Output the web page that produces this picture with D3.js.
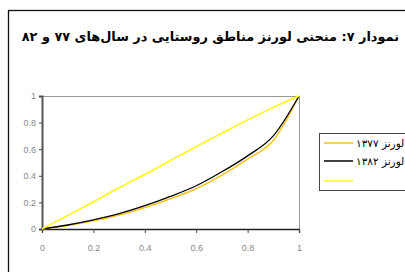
<!DOCTYPE html>
<html>
<head>
<meta charset="utf-8">
<script src="https://cdn.jsdelivr.net/npm/d3@7"></script>
<style>
  body { margin: 0; background: #fff; }
  svg { display: block; }
</style>
</head>
<body>
<div id="chart-area"></div>
<script>
// data
var shares = [0, 0.1, 0.2, 0.3, 0.4, 0.5, 0.6, 0.7, 0.8, 0.9, 1]
var lorenz77 = [0, 0.027, 0.062, 0.105, 0.162, 0.228, 0.303, 0.405, 0.525, 0.665, 1]
var lorenz82 = [0, 0.03, 0.068, 0.115, 0.175, 0.245, 0.325, 0.43, 0.55, 0.7, 1]
var equality = [0, 0.1, 0.205, 0.31, 0.41, 0.515, 0.62, 0.72, 0.82, 0.915, 1]
var tickValues = [0, 0.2, 0.4, 0.6, 0.8, 1]
var seriesNames = ["لورنز ۱۳۷۷", "لورنز ۱۳۸۲", ""]
var title = "نمودار ۷: منحنی لورنز مناطق روستایی در سال‌های ۷۷ و ۸۲"

var W = 405, H = 272
var plot = { left: 42, right: 299, top: 96, bottom: 229 }

var svg = d3.select("#chart-area")
    .append("svg")
        .attr("width", W)
        .attr("height", H)

// outer frame (clipped on right and bottom)
svg.append("rect")
    .attr("x", 8.5).attr("y", 10.5)
    .attr("width", 500).attr("height", 400)
    .attr("fill", "none")
    .attr("stroke", "#111")
    .attr("stroke-width", 1.3)

// title
var t = svg.append("text")
    .attr("x", 399)
    .attr("y", 41)
    .attr("text-anchor", "end")
    .attr("font-family", "'DejaVu Sans', 'Liberation Serif', serif")
    .attr("font-weight", "bold")
    .attr("font-size", "14px")
    .attr("fill", "#000")
    .text(title)
var tl = t.node().getComputedTextLength()
if (tl > 0) t.attr("font-size", (14 * 378 / tl) + "px")

// scales
var x = d3.scaleLinear().domain([0, 1]).range([plot.left, plot.right])
var y = d3.scaleLinear().domain([0, 1]).range([plot.bottom, plot.top])

// plot border top/right
svg.append("path")
    .attr("d", "M" + plot.left + "," + (plot.top + 0.5) + "H" + (plot.right + 0.5) + "V" + plot.bottom)
    .attr("fill", "none")
    .attr("stroke", "#999")
    .attr("stroke-width", 1)

// X axis
var xAxis = svg.append("g")
    .attr("transform", "translate(0," + plot.bottom + ")")
    .call(d3.axisBottom(x).tickValues(tickValues).tickSize(4).tickPadding(12)
        .tickFormat(d3.format("")))
xAxis.select(".domain").attr("stroke", "#222").attr("stroke-width", 1.3)
xAxis.selectAll(".tick line").attr("stroke", "#444")
xAxis.selectAll("text")
    .attr("fill", "#888")
    .attr("font-family", "'Liberation Sans', sans-serif")
    .attr("font-size", "9px")

// Y axis
var yAxis = svg.append("g")
    .attr("transform", "translate(" + plot.left + ",0)")
    .call(d3.axisLeft(y).tickValues(tickValues).tickSize(3).tickPadding(3)
        .tickFormat(d3.format("")))
yAxis.select(".domain").attr("stroke", "#555").attr("stroke-width", 2)
yAxis.selectAll(".tick line").attr("stroke", "#444")
yAxis.selectAll("text")
    .attr("fill", "#888")
    .attr("font-family", "'Liberation Sans', sans-serif")
    .attr("font-size", "9px")

// lines
var line = d3.line()
    .x(function(d, i) { return x(shares[i]) })
    .y(function(d) { return y(d) })
    .curve(d3.curveMonotoneX)

var series = [
    { values: lorenz77, color: "#f7c21c", width: 1.5 },
    { values: lorenz82, color: "#000", width: 1.3 },
    { values: equality, color: "#ffff00", width: 1.5 }
]

svg.selectAll(".series")
    .data(series)
    .enter()
    .append("path")
        .attr("class", "series")
        .attr("d", function(d) { return line(d.values) })
        .attr("fill", "none")
        .attr("stroke", function(d) { return d.color })
        .attr("stroke-width", function(d) { return d.width })

// legend
var legend = svg.append("g")
legend.append("rect")
    .attr("x", 319.5).attr("y", 133.5)
    .attr("width", 120).attr("height", 57)
    .attr("fill", "#fff")
    .attr("stroke", "#444")
    .attr("stroke-width", 1)

var items = legend.selectAll(".item")
    .data(series)
    .enter()
    .append("g")
        .attr("class", "item")
        .attr("transform", function(d, i) { return "translate(0," + [143, 161, 181][i] + ")" })
items.append("line")
    .attr("x1", 324).attr("x2", 353)
    .attr("stroke", function(d) { return d.color })
    .attr("stroke-width", 1.5)
items.append("text")
    .attr("x", 356)
    .attr("y", 3.5)
    .attr("font-family", "'DejaVu Sans', sans-serif")
    .attr("font-size", "10.5px")
    .attr("fill", "#000")
    .text(function(d, i) { return seriesNames[i] })
</script>
</body>
</html>
